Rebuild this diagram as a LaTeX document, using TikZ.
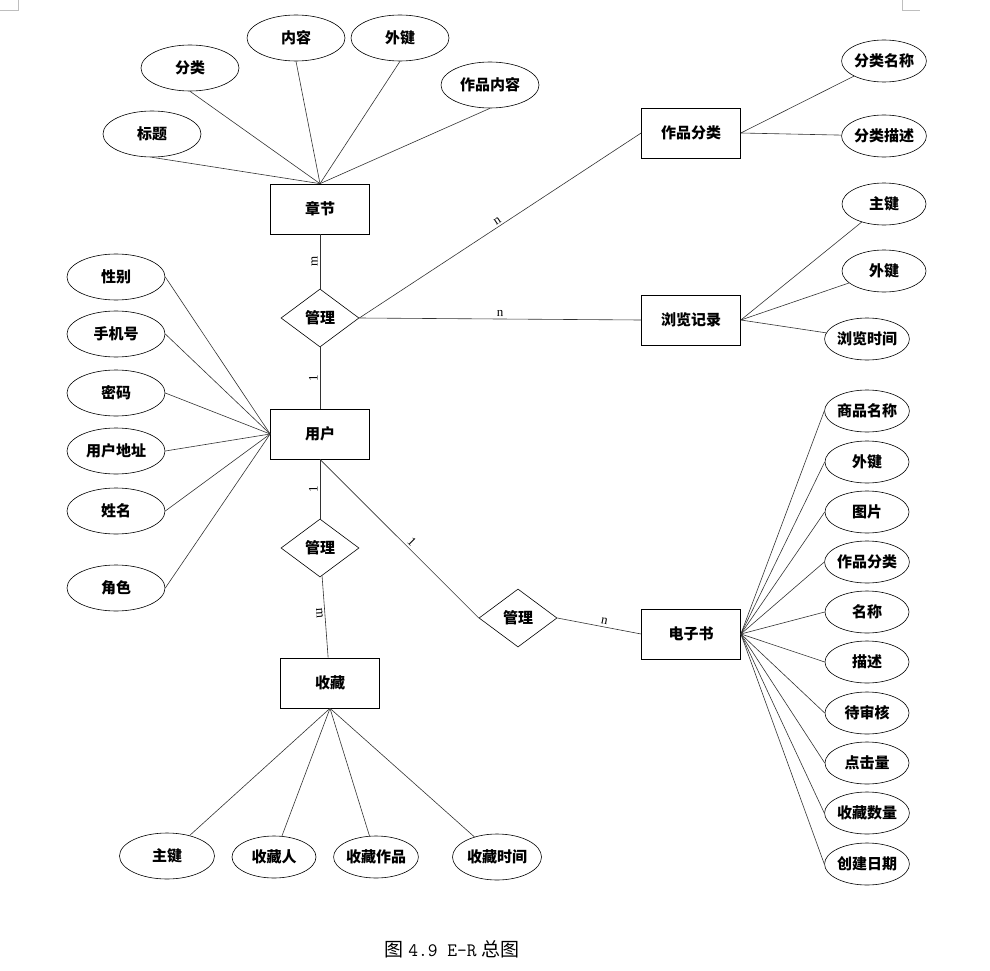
\documentclass[tikz,border=0pt]{standalone}
\usepackage{fontspec}
\usepackage{tikz}
\setmainfont{Liberation Serif}
\newfontfamily\cjk{Noto Sans CJK SC}
\usetikzlibrary{shapes.geometric}

\begin{document}
\begin{tikzpicture}[x=1pt, y=-1pt, every node/.style={align=center}]
    % 颜色
    \definecolor{linegray}{RGB}{50,50,50}
    \definecolor{markgray}{RGB}{190,190,190}

    % 节点样式
    \tikzstyle{entity} = [rectangle, draw=black, line width=0.7pt, minimum width=99pt, minimum height=50pt, font=\cjk\bfseries\fontsize{15}{17}\selectfont]
    \tikzstyle{rel} = [diamond, draw=black, line width=0.6pt, minimum width=78pt, minimum height=58pt, inner sep=0pt, aspect=1.35, font=\cjk\bfseries\fontsize{15}{17}\selectfont]
    \tikzstyle{attr} = [ellipse, draw=black, line width=0.6pt, minimum width=98pt, minimum height=46pt, inner sep=0pt, font=\cjk\bfseries\fontsize{15}{17}\selectfont]
    \tikzstyle{sattr} = [attr, minimum width=84pt, minimum height=42pt]
    \tikzstyle{link} = [draw=linegray, line width=0.6pt]
    \tikzstyle{card} = [font=\fontsize{13}{13}\selectfont, inner sep=2pt]

    \useasboundingbox (0,0) rectangle (990,971);

    % 页面角标
    \draw[markgray] (0,10) -- (18,10) -- (18,0);
    \draw[markgray] (902,0) -- (902,10) -- (920,10);

    % 实体
    \node[entity] (zhangjie) at (320,209) {章节};
    \node[entity] (yonghu) at (320,434) {用户};
    \node[entity] (shoucang) at (330,683) {收藏};
    \node[entity] (dianzishu) at (691,634) {电子书};
    \node[entity] (zpfenlei) at (691,133) {作品分类};
    \node[entity] (liulan) at (691,320) {浏览记录};

    % 联系
    \node[rel] (guanli1) at (320,318) {管理};
    \node[rel] (guanli2) at (320,548) {管理};
    \node[rel] (guanli3) at (518,618) {管理};

    % 章节属性
    \node[attr] (biaoti) at (152,134) {标题};
    \node[attr] (fenlei) at (190,68) {分类};
    \node[attr] (neirong) at (296,38) {内容};
    \node[attr] (waijian1) at (400,38) {外键};
    \node[attr] (zpneirong) at (490,85) {作品内容};
    \foreach \a in {biaoti, fenlei, neirong, waijian1, zpneirong}
        \draw[link] (\a.south) -- (zhangjie.north);

    % 作品分类属性
    \node[sattr] (flmingcheng) at (884,61) {分类名称};
    \node[sattr] (flmiaoshu) at (884,136) {分类描述};
    \foreach \a in {flmingcheng, flmiaoshu}
        \draw[link] (\a) -- (zpfenlei.east);

    % 浏览记录属性
    \node[sattr] (zhujian1) at (884,204) {主键};
    \node[sattr] (waijian2) at (884,271) {外键};
    \node[sattr] (llshijian) at (867,339) {浏览时间};
    \foreach \a in {zhujian1, waijian2, llshijian}
        \draw[link] (\a) -- (liulan.east);

    % 用户属性
    \node[attr] (xingbie) at (116,277) {性别};
    \node[attr] (shouji) at (116,334) {手机号};
    \node[attr] (mima) at (116,393) {密码};
    \node[attr] (dizhi) at (116,451) {用户地址};
    \node[attr] (xingming) at (116,511) {姓名};
    \node[attr] (juese) at (116,588) {角色};
    \foreach \a in {xingbie, shouji, mima, dizhi, xingming, juese}
        \draw[link] (\a.east) -- (yonghu.west);

    % 电子书属性
    \node[sattr] (spmingcheng) at (867,411) {商品名称};
    \node[sattr] (waijian3) at (867,462) {外键};
    \node[sattr] (tupian) at (867,512) {图片};
    \node[sattr] (dzfenlei) at (867,562) {作品分类};
    \node[sattr] (mingcheng) at (867,612) {名称};
    \node[sattr] (miaoshu) at (867,662) {描述};
    \node[sattr] (daishenhe) at (867,713) {待审核};
    \node[sattr] (dianji) at (867,763) {点击量};
    \node[sattr] (scshuliang) at (867,813) {收藏数量};
    \node[sattr] (chuangjian) at (867,864) {创建日期};
    \foreach \a in {spmingcheng, waijian3, tupian, dzfenlei, mingcheng, miaoshu, daishenhe, dianji, scshuliang, chuangjian}
        \draw[link] (\a.west) -- (dianzishu.east);

    % 收藏属性
    \node[attr, minimum width=95pt] (zhujian2) at (167,856) {主键};
    \node[sattr] (scren) at (274,857) {收藏人};
    \node[sattr] (sczuopin) at (376,857) {收藏作品};
    \node[attr, minimum width=89pt] (scshijian) at (497,857) {收藏时间};
    \foreach \a in {zhujian2, scren, sczuopin, scshijian}
        \draw[link] (\a) -- (shoucang.south);

    % 联系连线
    \draw[link] (zhangjie) -- node[card, rotate=90, pos=0.5, anchor=south] {m} (guanli1);
    \draw[link] (guanli1) -- node[card, rotate=90, pos=0.5, anchor=south] {1} (yonghu);
    \draw[link] (guanli1.east) -- node[card, sloped, above, pos=0.5] {n} (zpfenlei.west);
    \draw[link] (guanli1.east) -- node[card, sloped, above, pos=0.5] {n} (liulan.west);
    \draw[link] (yonghu) -- node[card, rotate=90, pos=0.5, anchor=south] {1} (guanli2);
    \draw[link] (guanli2) -- node[card, sloped, below, pos=0.45] {m} (shoucang);
    \draw[link] (yonghu.south) -- node[card, sloped, above, pos=0.55] {1} (guanli3.west);
    \draw[link] (guanli3.east) -- node[card, sloped, above, pos=0.55] {n} (dianzishu.west);

    % 图题
    \node[font=\fontsize{19}{21}\selectfont] (tuti) at (452,949) {{\cjk 图} {\ttfamily 4.9 E-R} {\cjk 总图}};
\end{tikzpicture}
\end{document}
